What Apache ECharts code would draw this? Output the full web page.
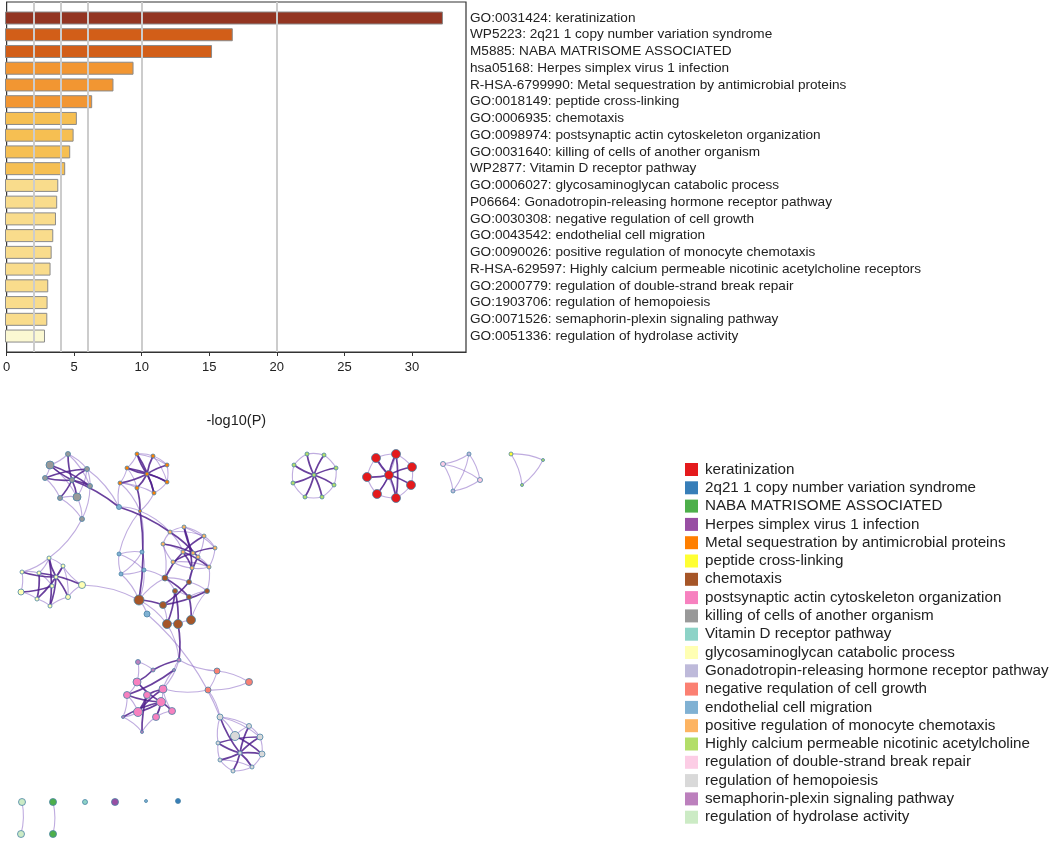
<!DOCTYPE html>
<html>
<head>
<meta charset="utf-8">
<script src="https://cdn.jsdelivr.net/npm/echarts@6/dist/echarts.min.js"></script>
<style>html,body{margin:0;padding:0;background:#fff}#c{width:1052px;height:841px}</style>
</head>
<body>
<div id="c"></div>
<script>
// ---------- bar chart data ----------
const termLabels = [
  'GO:0031424: keratinization',
  'WP5223: 2q21 1 copy number variation syndrome',
  'M5885: NABA MATRISOME ASSOCIATED',
  'hsa05168: Herpes simplex virus 1 infection',
  'R-HSA-6799990: Metal sequestration by antimicrobial proteins',
  'GO:0018149: peptide cross-linking',
  'GO:0006935: chemotaxis',
  'GO:0098974: postsynaptic actin cytoskeleton organization',
  'GO:0031640: killing of cells of another organism',
  'WP2877: Vitamin D receptor pathway',
  'GO:0006027: glycosaminoglycan catabolic process',
  'P06664: Gonadotropin-releasing hormone receptor pathway',
  'GO:0030308: negative regulation of cell growth',
  'GO:0043542: endothelial cell migration',
  'GO:0090026: positive regulation of monocyte chemotaxis',
  'R-HSA-629597: Highly calcium permeable nicotinic acetylcholine receptors',
  'GO:2000779: regulation of double-strand break repair',
  'GO:1903706: regulation of hemopoiesis',
  'GO:0071526: semaphorin-plexin signaling pathway',
  'GO:0051336: regulation of hydrolase activity'
];
const negLogP = [32.3, 16.8, 15.27, 9.48, 8.0, 6.43, 5.3, 5.06, 4.81, 4.44,
                 3.93, 3.85, 3.76, 3.56, 3.44, 3.36, 3.19, 3.14, 3.12, 2.95];
const barColors = ['#933522','#d25e18','#d25e18','#f29632','#f29632','#f29632',
  '#f6bf52','#f6bf52','#f6bf52','#f6bf52',
  '#f9dc8c','#f9dc8c','#f9dc8c','#f9dc8c','#f9dc8c','#f9dc8c','#f9dc8c','#f9dc8c','#f9dc8c','#fbf8d2'];
const gridLineValues = [2, 4, 6, 10, 20];
const xTicks = {min: 0, max: 34, interval: 5};

// ---------- network data ----------
const clusterNames = ['keratinization','2q21 1 copy number variation syndrome','NABA MATRISOME ASSOCIATED',
  'Herpes simplex virus 1 infection','Metal sequestration by antimicrobial proteins','peptide cross-linking',
  'chemotaxis','postsynaptic actin cytoskeleton organization','killing of cells of another organism',
  'Vitamin D receptor pathway','glycosaminoglycan catabolic process','Gonadotropin-releasing hormone receptor pathway',
  'negative requlation of cell growth','endothelial cell migration','positive regulation of monocyte chemotaxis',
  'Highly calcium permeable nicotinic acetylcholine','regulation of double-strand break repair',
  'regulation of hemopoiesis','semaphorin-plexin signaling pathway','regulation of hydrolase activity'];
const clusterColors = ['#e41a1c','#377eb8','#4daf4a','#984ea3','#ff7f00','#ffff33','#a65628','#f781bf','#999999',
  '#8dd3c7','#ffffb3','#bebada','#fb8072','#80b1d3','#fdb462','#b3de69','#fccde5','#d9d9d9','#bc80bd','#ccebc5'];
// node: [id, layoutX, layoutY, cluster index, size]
const nodes = [
  ['A0',68,454,8,5],['A1',50,465,8,8],['A2',87,469,8,5],['A3',45,478,8,5],['A4',72,480,8,5],
  ['A5',90,486,8,5],['A6',60,498,8,5],['A7',77,497,8,8],['A8',82,519,8,5],['A9',119,507,13,5],
  ['B0',137,454,4,4],['B1',153,456,4,4],['B2',127,468,4,4],['B3',167,465,4,4],['B4',147,474,4,4],
  ['B5',120,483,4,4],['B6',137,488,4,4],['B7',167,482,4,4],['B8',154,493,4,4],['B9',140,511,4,3],
  ['C0',170,532,14,4],['C1',184,527,14,4],['C2',204,536,14,4],['C3',163,544,14,4],['C4',215,548,14,4],
  ['C5',183,552,14,4],['C6',193,553,14,4],['C7',198,557,14,4],['C8',173,562,14,4],['C9',192,568,14,4],['C10',209,567,14,4],
  ['D0',49,558,10,4],['D1',63,566,10,4],['D2',22,572,10,4],['D3',39,573,10,4],['D4',56,577,10,4],
  ['D5',52,586,10,4],['D6',82,585,10,7],['D7',21,592,10,6],['D8',37,599,10,4],['D9',68,597,10,5],['D10',50,606,10,4],
  ['E0',119,554,13,4],['E1',142,552,13,4],['E2',144,570,13,4],['E3',121,574,13,4],
  ['H0',139,600,6,10],['H1',165,578,6,6],['H2',189,582,6,5],['H3',175,591,6,5],['H4',189,597,6,5],
  ['H5',207,591,6,5],['H6',163,605,6,7],['H7',167,624,6,9],['H8',178,624,6,9],['H9',191,620,6,9],['H10',147,614,13,6],
  ['P0',137,682,7,8],['P1',163,689,7,8],['P2',127,695,7,7],['P3',147,695,7,7],['P4',161,702,7,9],
  ['P5',172,711,7,7],['P6',138,712,7,9],['P7',156,717,7,7],
  ['S0',138,662,18,5],['S1',153,670,18,4],['S2',179,660,18,4],['S3',123,717,18,3],['S4',142,732,18,3],['S5',174,670,18,3],
  ['R0',217,671,12,6],['R1',249,682,12,7],['R2',208,690,12,6],
  ['G0',220,717,17,6],['G1',235,736,17,9],['G2',249,726,17,5],['G3',260,737,17,6],['G4',218,743,17,4],
  ['G5',240,753,17,4],['G6',262,754,17,6],['G7',220,760,17,4],['G8',233,771,17,4],['G9',252,767,17,4],
  ['N0',307,454,15,4],['N1',324,455,15,4],['N2',294,465,15,4],['N3',336,468,15,4],['N4',314,475,15,4],
  ['N5',293,483,15,4],['N6',334,485,15,4],['N7',305,497,15,4],['N8',322,497,15,4],
  ['K0',376,458,0,9],['K1',396,454,0,9],['K2',412,467,0,9],['K3',367,477,0,9],['K4',389,475,0,9],
  ['K5',411,485,0,9],['K6',377,494,0,9],['K7',396,498,0,9],
  ['T0',469,454,11,4],['T1',443,464,16,5],['T2',480,480,16,5],['T3',453,491,11,4],
  ['U0',511,454,5,4],['U1',543,460,15,3],['U2',522,485,15,3],
  ['W0',22,802,19,7],['W1',21,834,19,7],['W2',53,802,2,7],['W3',53,834,2,7],
  ['W4',85,802,9,5],['W5',115,802,3,7],['W6',146,801,13,3],['W7',178,801,1,5]
];
const darkLinks = 'A4-A0 A4-A1 A4-A2 A4-A3 A4-A5 A4-A6 A4-A7 A3-A2 A1-A5 A4-A9 A9-C0 ' +
  'B4-B0 B4-B1 B4-B2 B4-B3 B4-B5 B4-B6 B4-B7 B4-B8 B6-B9 B0-B8 B2-B7 ' +
  'C5-C2 C5-C9 C5-C10 C3-C6 C6-C1 C6-C4 C0-C7 C8-C6 C1-C9 ' +
  'D4-D0 D4-D2 D4-D10 D4-D9 D3-D6 D3-D8 D1-D8 D5-D7 D0-D10 ' +
  'H0-H6 H1-H4 H3-H7 H2-H6 H3-H8 H5-H6 H4-H9 H1-C5 H2-C7 H8-S2 B9-H0 ' +
  'P4-P0 P4-P2 P4-P6 P4-P5 P4-P7 P3-P1 P3-P6 S1-S2 S1-P0 S4-P3 S3-P4 P6-P1 S5-P2 ' +
  'G5-G0 G5-G2 G5-G3 G5-G4 G5-G6 G5-G7 G5-G8 G5-G9 G1-G6 G4-G3 ' +
  'N4-N0 N4-N1 N4-N2 N4-N3 N4-N5 N4-N6 N4-N7 N4-N8 ' +
  'K4-K0 K4-K1 K4-K2 K4-K3 K4-K5 K4-K6 K4-K7 K1-K7';
const lightLinks = 'A0-A2 A0-A1 A1-A3 A2-A5 A5-A8 A6-A8 A7-A8 A6-A7 A2-A9 A8-D0 A9-B5 A9-B9 A3-A6 A0-A5 A1-A7 A2-A7 ' +
  'B0-B1 B1-B3 B3-B7 B7-B8 B8-B9 B5-B6 B2-B5 B0-B2 B5-B9 B9-C0 B9-E1 B1-B7 B2-B6 B0-B3 B5-B8 ' +
  'C0-C1 C1-C2 C2-C4 C4-C10 C10-C9 C9-C8 C8-C3 C3-C0 C0-C5 C2-C7 C7-C10 C1-C4 C3-C5 C0-C2 C8-C10 ' +
  'D0-D1 D2-D3 D2-D7 D7-D8 D8-D10 D10-D9 D9-D6 D6-D1 D1-D4 D3-D5 D0-D2 D6-H0 D0-D3 D1-D9 ' +
  'E0-E1 E1-E2 E2-E3 E3-E0 E0-E2 E1-E3 E3-H0 E2-H0 E2-H1 E0-B9 ' +
  'C3-H1 C8-H1 C9-H2 C10-H5 H0-H10 H0-H1 H6-H7 H7-H8 H8-H9 H9-H5 H1-H3 H3-H4 H4-H5 H0-H7 H7-S2 H10-G0 H1-H2 H2-H5 ' +
  'S0-S1 S0-P0 P0-P2 P2-P6 P6-S3 S3-S4 S4-P7 P7-P5 P5-P1 P1-S5 S5-S2 S2-P1 P0-P3 P2-S3 P1-P7 ' +
  'R0-R1 R1-R2 R0-R2 R0-S2 R2-P1 R2-G0 ' +
  'G0-G1 G0-G2 G2-G3 G3-G6 G6-G9 G9-G8 G8-G7 G7-G4 G4-G0 G1-G2 G0-G3 G7-G9 ' +
  'N0-N1 N1-N3 N3-N6 N6-N8 N8-N7 N7-N5 N5-N2 N2-N0 ' +
  'K0-K1 K1-K2 K2-K5 K5-K7 K7-K6 K6-K3 K3-K0 K0-K7 K1-K6 ' +
  'T0-T1 T0-T2 T1-T2 T1-T3 T2-T3 T0-T3 U0-U1 U1-U2 U0-U2 ' +
  'W0-W1 W2-W3';

// ---------- build option ----------
function parseLinks(str, style) {
  return str.trim().split(/\s+/).map(p => {
    const [s, t] = p.split('-');
    return {source: s, target: t, lineStyle: style};
  });
}
const darkStyle = {color: '#4f1f8c', width: 1.7, opacity: 0.85, curveness: 0.08};
const lightStyle = {color: '#8a68c4', width: 1.1, opacity: 0.55, curveness: 0.12};
const graphLinks = parseLinks(lightLinks, lightStyle).concat(parseLinks(darkLinks, darkStyle));
const graphNodes = nodes.map(n => ({name: n[0], value: [n[1], n[2]], category: n[3], symbolSize: n[4]}));
const categories = clusterNames.map((nm, i) => ({name: nm, itemStyle: {color: clusterColors[i]}}));

const chart = echarts.init(document.getElementById('c'), null, {renderer: 'canvas'});
chart.setOption({
  animation: false,
  textStyle: {fontFamily: 'Liberation Sans, Arial, sans-serif'},
  grid: [
    {left: 5, top: 2, width: 461, height: 350, show: true, borderColor: '#333', borderWidth: 1.2, backgroundColor: 'transparent'},
    {left: 5, top: 9.63, width: 461, height: 334.8},
    {left: 0, top: 440, width: 640, height: 400}
  ],
  xAxis: [
    {gridIndex: 0, type: 'value', min: xTicks.min, max: xTicks.max, interval: xTicks.interval,
     splitLine: {show: false}, axisLine: {show: true, lineStyle: {color: '#333', width: 1.2}},
     axisTick: {show: true, length: 4, lineStyle: {color: '#333'}},
     axisLabel: {fontSize: 13, color: '#222', margin: 9, showMaxLabel: false},
     name: '-log10(P)', nameLocation: 'middle', nameGap: 61, nameTextStyle: {fontSize: 14.5, color: '#222'}},
    {gridIndex: 1, type: 'value', min: xTicks.min, max: xTicks.max, show: false},
    {gridIndex: 2, type: 'value', min: 0, max: 640, show: false}
  ],
  yAxis: [
    {gridIndex: 0, type: 'value', min: 0, max: 1, show: false},
    {gridIndex: 1, type: 'category', data: termLabels, inverse: true, position: 'right',
     axisLine: {show: false}, axisTick: {show: false},
     axisLabel: {show: true, interval: 0, fontSize: 13.6, color: '#222', margin: 4, align: 'left'}},
    {gridIndex: 2, type: 'value', min: 440, max: 840, inverse: true, show: false}
  ],
  legend: {
    orient: 'vertical', left: 680, top: 457, height: 380, icon: 'rect', itemWidth: 13, itemHeight: 13, itemGap: 3.3,
    selectedMode: false, data: clusterNames,
    itemStyle: {borderWidth: 0},
    textStyle: {fontSize: 15.2, color: '#222', lineHeight: 15, padding: [0, 0, 0, 2]}
  },
  series: [
    {type: 'line', xAxisIndex: 0, yAxisIndex: 0, data: [], silent: true, z: 1,
     markLine: {silent: true, symbol: 'none', label: {show: false},
       lineStyle: {color: '#cccccc', width: 2, type: 'solid'},
       data: gridLineValues.map(v => ({xAxis: v}))}},
    {type: 'bar', xAxisIndex: 1, yAxisIndex: 1, barWidth: 13, z: 3,
     data: negLogP.map((v, i) => ({value: v, itemStyle: {color: barColors[i]}})),
     itemStyle: {borderColor: '#8a8a8a', borderWidth: 1}},
    {type: 'graph', coordinateSystem: 'cartesian2d', xAxisIndex: 2, yAxisIndex: 2,
     data: graphNodes, links: graphLinks, categories: categories,
     edgeSymbol: ['none', 'none'], label: {show: false}, silent: true,
     itemStyle: {borderColor: '#4a84a6', borderWidth: 0.8},
     emphasis: {disabled: true}, z: 4}
  ]
});
</script>
</body>
</html>
